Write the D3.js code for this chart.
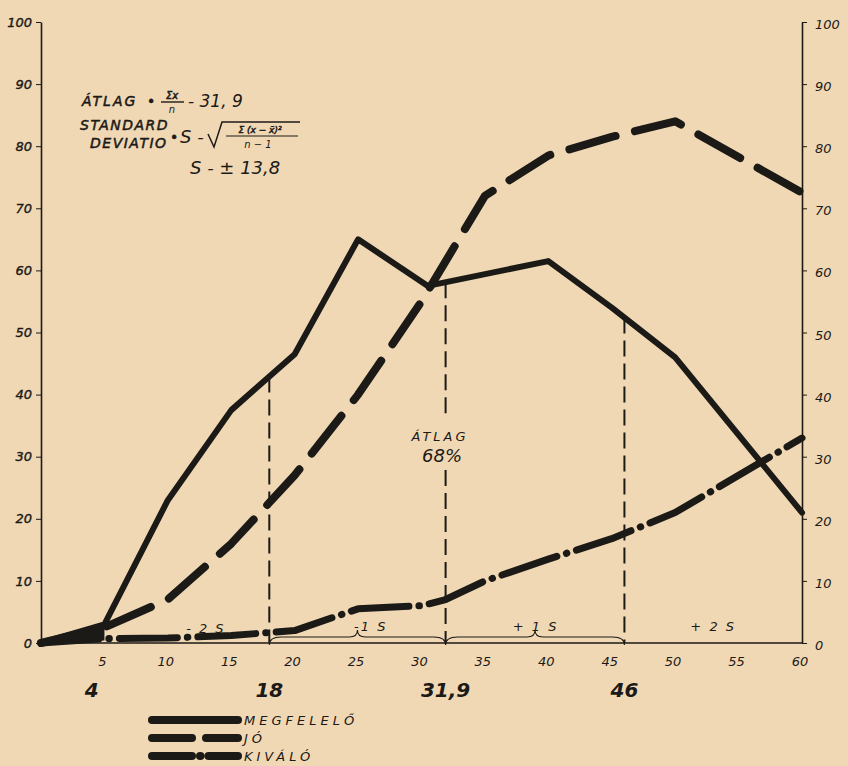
<!DOCTYPE html>
<html>
<head>
<meta charset="utf-8">
<script src="https://cdn.jsdelivr.net/npm/d3@7"></script>
<style>
  body { margin: 0; background: #f0d8b5; }
  svg { display: block; }
  text { font-family: "DejaVu Sans", sans-serif; font-style: italic; fill: #1c1a17; }
</style>
</head>
<body>
<div id="chart"></div>
<script>
// DATA
const megX = [0, 5, 10, 15, 20, 25, 30.5, 40, 45, 50, 60];
const megY = [0, 3, 23, 37.5, 46.5, 65, 57.5, 61.5, 54, 46, 21];

const joX = [0, 5, 10, 15, 20, 25, 30, 35, 40, 45, 50, 60];
const joY = [0, 2.5, 7, 16, 27, 40, 55, 72, 78.5, 81.5, 84, 72.5];

const kivX = [0, 5, 10, 15, 20, 25, 30, 31.9, 35, 40, 45, 50, 60];
const kivY = [0, 0.7, 0.8, 1.2, 2, 5.5, 6, 7, 10, 13.5, 16.8, 21, 33];

const xTicks = [5, 10, 15, 20, 25, 30, 35, 40, 45, 50, 55, 60];
const yTicks = [0, 10, 20, 30, 40, 50, 60, 70, 80, 90, 100];
const markX = [18, 31.9, 46];
const markLabels = ['4', '18', '31,9', '46'];
const markLabelX = [4, 18, 31.9, 46];
const sigmaLabels = ['- 2 S', '-1 S', '+ 1 S', '+ 2 S'];
const sigmaX = [13, 26, 39, 53];
const legendNames = ['MEGFELELŐ', 'JÓ', 'KIVÁLÓ'];

// SIZE
const width = 848, height = 766;
const ink = '#1c1a17';

const svg = d3.select('#chart').append('svg')
  .attr('width', width)
  .attr('height', height);

svg.append('rect').attr('width', width).attr('height', height).attr('fill', '#f0d8b5');

const x = d3.scaleLinear().domain([0, 60]).range([41, 802]);
const y = d3.scaleLinear().domain([0, 100]).range([643, 22]);

// AXES
const left = svg.append('g')
  .attr('transform', `translate(${x(0)},0)`)
  .call(d3.axisLeft(y).tickValues(yTicks).tickSize(5).tickSizeOuter(0));
left.select('.domain').attr('stroke', ink).attr('stroke-width', 1.6);
left.selectAll('line').attr('stroke', ink);
left.selectAll('text').attr('x', -9).style('font-size', '13px')
  .attr('stroke', ink).attr('stroke-width', 0.4);

const right = svg.append('g')
  .attr('transform', `translate(${x(60)},0)`)
  .call(d3.axisRight(y).tickValues(yTicks).tickSize(5).tickSizeOuter(0));
right.select('.domain').attr('stroke', ink).attr('stroke-width', 1.6);
right.selectAll('line').attr('stroke', ink);
right.selectAll('text').attr('x', 13).attr('dy', '0.5em').style('font-size', '13px');

const bottom = svg.append('g')
  .attr('transform', `translate(0,${y(0)})`)
  .call(d3.axisBottom(x).tickValues(xTicks).tickSize(0).tickSizeOuter(0));
bottom.select('.domain').attr('stroke', ink).attr('stroke-width', 1.6)
  .attr('d', `M${x(0)},0H${x(60)}`);
bottom.selectAll('text').attr('y', 14).attr('dx', '-0.2em').style('font-size', '13px');

// BIG MARK LABELS
svg.selectAll('.mark-label')
  .data(markLabels)
  .join('text')
  .attr('class', 'mark-label')
  .attr('x', (d, i) => x(markLabelX[i]))
  .attr('y', 697)
  .attr('text-anchor', 'middle')
  .style('font-size', '20px')
  .style('font-weight', 'bold')
  .text(d => d);

// VERTICAL DASHED MARKERS (up to the solid curve)
const megAt = v => {
  const i = d3.bisectRight(megX, v) - 1;
  const t = (v - megX[i]) / (megX[i + 1] - megX[i]);
  return megY[i] + t * (megY[i + 1] - megY[i]);
};
markX.forEach((m, i) => {
  const top = y(megAt(m));
  const segs = i === 1 ? [[top, 420], [470, y(0)]] : [[top, y(0)]];
  segs.forEach(([a, b]) => {
    svg.append('line').attr('x1', x(m)).attr('x2', x(m)).attr('y1', a).attr('y2', b)
      .attr('stroke', ink).attr('stroke-width', 2).attr('stroke-dasharray', '16,7');
  });
});

// BRACES
const brace = (x1, x2, yb) => {
  const xm = (x1 + x2) / 2, h = 8;
  return `M${x1},${yb + 4} Q${x1},${yb - 4} ${x1 + 12},${yb - 4} L${xm - 8},${yb - 4} Q${xm},${yb - 4} ${xm},${yb - h - 3}` +
         ` Q${xm},${yb - 4} ${xm + 8},${yb - 4} L${x2 - 12},${yb - 4} Q${x2},${yb - 4} ${x2},${yb + 4}`;
};
[[markX[0], markX[1]], [markX[1], markX[2]]].forEach(([a, b]) => {
  svg.append('path').attr('d', brace(x(a), x(b), 641))
    .attr('fill', 'none').attr('stroke', ink).attr('stroke-width', 1.1);
});

svg.selectAll('.sigma')
  .data(sigmaLabels)
  .join('text')
  .attr('class', 'sigma')
  .attr('x', (d, i) => x(sigmaX[i]))
  .attr('y', (d, i) => i === 0 ? 633 : 631)
  .attr('text-anchor', 'middle')
  .style('font-size', '13px')
  .style('letter-spacing', '2px')
  .text(d => d);

// LINES
const line = (xs, ys) => d3.line().x((d, i) => x(xs[i])).y(d => y(d))(ys);

// filled wedge at origin
svg.append('path')
  .attr('d', `M${x(0)},${y(0)} L${x(5)},${y(3)} L${x(5)},${y(0.4)} Z`)
  .attr('fill', ink);

svg.append('path').attr('d', line(kivX, kivY))
  .attr('fill', 'none').attr('stroke', ink).attr('stroke-width', 7)
  .attr('stroke-linecap', 'round').attr('stroke-linejoin', 'round')
  .attr('stroke-dasharray', '58,10,0.5,10');

svg.append('path').attr('d', line(joX, joY))
  .attr('fill', 'none').attr('stroke', ink).attr('stroke-width', 8)
  .attr('stroke-linecap', 'round').attr('stroke-linejoin', 'round')
  .attr('stroke-dasharray', '48,20');

svg.append('path').attr('d', line(megX, megY))
  .attr('fill', 'none').attr('stroke', ink).attr('stroke-width', 6)
  .attr('stroke-linecap', 'round').attr('stroke-linejoin', 'round');

// ATLAG LABEL IN MIDDLE
svg.append('text').attr('x', 440).attr('y', 441).attr('text-anchor', 'middle')
  .style('font-size', '13px').style('letter-spacing', '3px').text('ÁTLAG');
svg.append('text').attr('x', 442).attr('y', 462).attr('text-anchor', 'middle')
  .style('font-size', '18px').text('68%');

// FORMULA
const f = svg.append('g');
const fs = sel => sel.attr('stroke', ink).attr('stroke-width', 0.5);
f.append('text').attr('x', 82).attr('y', 106).style('font-size', '14px').style('letter-spacing', '2px').call(fs).text('ÁTLAG');
f.append('text').attr('x', 147).attr('y', 106).style('font-size', '14px').call(fs).text('•');
f.append('text').attr('x', 172).attr('y', 99).attr('text-anchor', 'middle').style('font-size', '10px').call(fs).text('Σx');
f.append('line').attr('x1', 161).attr('x2', 184).attr('y1', 102).attr('y2', 102).attr('stroke', ink).attr('stroke-width', 1.4);
f.append('text').attr('x', 172).attr('y', 113).attr('text-anchor', 'middle').style('font-size', '10px').text('n');
f.append('text').attr('x', 188).attr('y', 107).style('font-size', '17px').text('- 31, 9');

f.append('text').attr('x', 80).attr('y', 130).style('font-size', '14px').style('letter-spacing', '1.5px').call(fs).text('STANDARD');
f.append('text').attr('x', 90).attr('y', 148).style('font-size', '14px').style('letter-spacing', '1.5px').call(fs).text('DEVIATIO');
f.append('text').attr('x', 170).attr('y', 142).style('font-size', '14px').call(fs).text('•');
f.append('text').attr('x', 180).attr('y', 143).style('font-size', '18px').text('S -');
f.append('path').attr('d', 'M208,134 L214,147 L222,122 L300,122')
  .attr('fill', 'none').attr('stroke', ink).attr('stroke-width', 1.5);
f.append('text').attr('x', 260).attr('y', 133).attr('text-anchor', 'middle').style('font-size', '9px').call(fs).text('Σ (x − x̄)²');
f.append('line').attr('x1', 226).attr('x2', 298).attr('y1', 136).attr('y2', 136).attr('stroke', ink).attr('stroke-width', 1.2);
f.append('text').attr('x', 258).attr('y', 148).attr('text-anchor', 'middle').style('font-size', '10px').text('n − 1');
f.append('text').attr('x', 190).attr('y', 174).style('font-size', '18px').text('S - ± 13,8');

// LEGEND
const lg = svg.append('g');
const legendY = [720, 738, 756];
const legendDash = [null, '40,14', '40,8,0.5,8'];
legendNames.forEach((name, i) => {
  lg.append('line').attr('x1', 152).attr('x2', 238).attr('y1', legendY[i]).attr('y2', legendY[i])
    .attr('stroke', ink).attr('stroke-width', 8).attr('stroke-linecap', 'round')
    .attr('stroke-dasharray', legendDash[i]);
  lg.append('text').attr('x', 244).attr('y', legendY[i] + 5)
    .style('font-size', '13px').style('letter-spacing', '4px').text(name);
});
</script>
</body>
</html>
